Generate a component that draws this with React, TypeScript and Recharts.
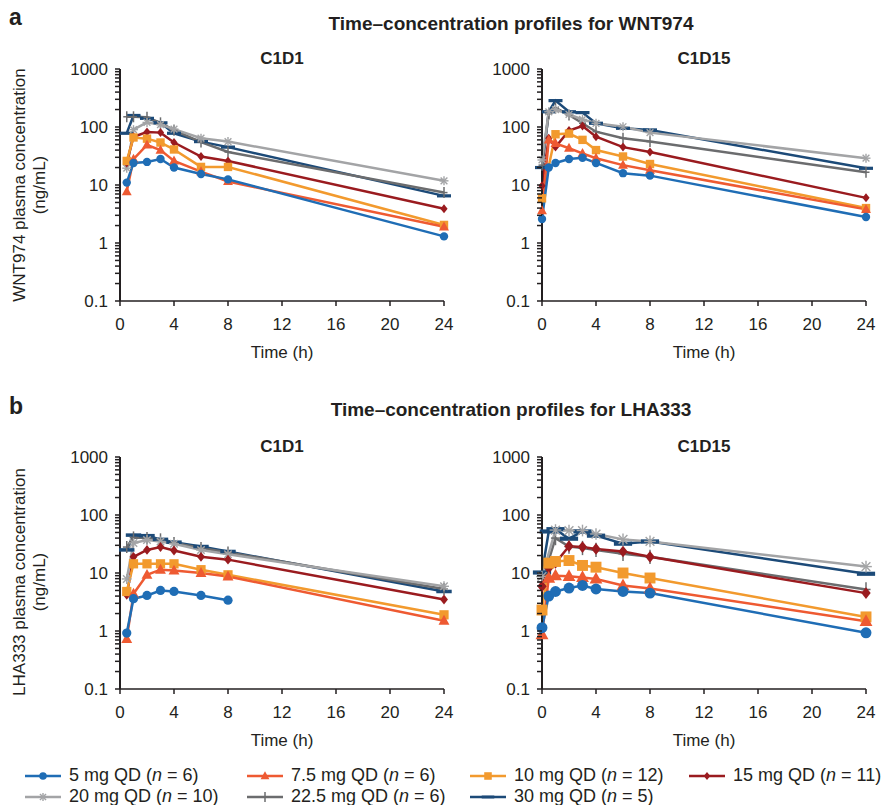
import React from 'react';
import { LineChart, Line, XAxis, YAxis } from 'recharts';

// sampling times (h)
const T_C1D1 = [0.5, 1, 2, 3, 4, 6, 8, 24];
const T_C1D15 = [0, 0.5, 1, 2, 3, 4, 6, 8, 24];

// one row per dose group, same order as DOSES
const WNT974_C1D1 = [
  [11, 24, 25, 28, 20, 15.5, 12.5, 1.3],
  [7.7, 28, 49, 40, 26, 17, 11.5, 1.9],
  [26, 66, 63, 54, 41, 20.5, 20.5, 2.05],
  [24, 68, 82, 80, 54, 31, 26, 3.9],
  [19.5, 90, 120, 110, 92, 64, 56, 11.8],
  [150, 150, 147, 118, 88, 55, 37, 7.4],
  [78, 158, 141, 118, 78, 56, 45, 6.5],
];
const WNT974_C1D15 = [
  [2.6, 20, 24, 28, 29.5, 24, 16, 14.5, 2.8],
  [3.6, 60, 52, 43, 35, 29, 22, 18, 3.8],
  [5.9, null, 75, 77, 60, 40, 31, 23, 4.0],
  [9.7, 64, 45, 87, 104, 68, 45, 37, 6.0],
  [27, 183, 200, 165, 135, 116, 101, 80, 29],
  [22, 170, 214, 161, 116, 83, 64, 56, 16.6],
  [20, 183, 285, 183, 177, 116, 95, 89, 19.4],
];
const LHA333_C1D1 = [
  [0.92, 3.6, 4.1, 5.0, 4.8, 4.1, 3.4, null],
  [0.73, 4.4, 9.3, 11.4, 11, 10, 8.7, 1.5],
  [4.8, 14.4, 14.4, 14.4, 14.4, 11.4, 9.3, 1.9],
  [4.2, 19, 25, 28, 24.5, 19, 17, 3.5],
  [7.9, 33, 37, 35, 32, 25, 21, 5.9],
  [28, 41, 40, 38, 33, 27, 22.6, 5.3],
  [25, 45, 44, 38, 34, 28.6, 23.5, 4.8],
];
const LHA333_C1D15 = [
  [1.14, 4, 4.8, 5.5, 6.1, 5.3, 4.8, 4.5, 0.93],
  [0.87, 8.2, 9, 8.8, 8.4, 7.9, 6.1, 5.4, 1.47],
  [2.3, 14.8, 15.8, 16.4, 13.5, 12.6, 10, 8.2, 1.75],
  [5.9, 12.2, 15, 29, 28, 26, 23.5, 19, 4.5],
  [8.7, null, 55, 54, 54, 47, 38, 35, 12.9],
  [7, null, 40, 28.6, 27, 25, 21.4, 19, 5.2],
  [10.2, 52, 57, 39, 52, 44, 32, 35, 9.7],
];

const DOSES = ['5', '7.5', '10', '15', '20', '22.5', '30'];
const N_PATIENTS = [6, 6, 12, 11, 10, 6, 5];
const COLORS = ['#1f6db5', '#ee5a32', '#f29a2e', '#9a1b1f', '#a3a4a6', '#6b6c6e', '#1c4a78'];
const MARKERS = ['circle', 'triangle', 'square', 'diamond', 'star', 'plus', 'dash'];

const X_TICKS = [0, 4, 8, 12, 16, 20, 24];
const Y_MAJOR = [0.1, 1, 10, 100, 1000];
const Y_TICKS: number[] = [];
Y_MAJOR.forEach((d, i) => {
  Y_TICKS.push(d);
  if (i < Y_MAJOR.length - 1) {
    for (let k = 2; k <= 9; k++) Y_TICKS.push(+(k * d).toPrecision(3));
  }
});

const FONT = "'Liberation Sans', Arial, Helvetica, sans-serif";
const INK = '#231f20';
const PLOT_W = 324;
const PLOT_H = 232;
// axis widths of 1px are added to these margins by recharts
const M = { top: 10, left: 59, right: 15, bottom: 44 };

function Marker({ kind, cx, cy, color, s = 1 }: any) {
  switch (kind) {
    case 'circle':
      return <circle cx={cx} cy={cy} r={4.2 * s} fill={color} />;
    case 'triangle': {
      const h = 9 * s;
      return (
        <polygon
          points={`${cx},${cy - h * 0.6} ${cx - h * 0.55},${cy + h * 0.4} ${cx + h * 0.55},${cy + h * 0.4}`}
          fill={color}
        />
      );
    }
    case 'square':
      return <rect x={cx - 4.2 * s} y={cy - 4.2 * s} width={8.4 * s} height={8.4 * s} fill={color} />;
    case 'diamond':
      return (
        <polygon
          points={`${cx},${cy - 4.5 * s} ${cx + 3.6 * s},${cy} ${cx},${cy + 4.5 * s} ${cx - 3.6 * s},${cy}`}
          fill={color}
        />
      );
    case 'star': {
      const r = 4.5 * s;
      const d = r * 0.75;
      return (
        <g stroke={color} strokeWidth={1.4}>
          <line x1={cx - r} x2={cx + r} y1={cy} y2={cy} />
          <line x1={cx} x2={cx} y1={cy - r} y2={cy + r} />
          <line x1={cx - d} x2={cx + d} y1={cy - d} y2={cy + d} />
          <line x1={cx - d} x2={cx + d} y1={cy + d} y2={cy - d} />
        </g>
      );
    }
    case 'plus':
      return (
        <g stroke={color} strokeWidth={1.5}>
          <line x1={cx} x2={cx} y1={cy - 5.5 * s} y2={cy + 5.5 * s} />
          <line x1={cx - 3.5 * s} x2={cx + 3.5 * s} y1={cy} y2={cy} />
        </g>
      );
    default:
      return <rect x={cx - 7 * s} y={cy - 1.6 * s} width={14 * s} height={3.2 * s} fill={color} />;
  }
}

function YTick({ x, y, payload }: any) {
  const v = payload.value;
  const major = Y_MAJOR.some((m) => Math.abs(m - v) < 1e-9);
  return (
    <g>
      <line x1={x - 5} x2={x} y1={y} y2={y} stroke={INK} strokeWidth={1.5} />
      {major && (
        <text x={x - 12} y={y} dy="0.36em" textAnchor="end" fontSize={17} fill={INK} fontFamily={FONT}>
          {String(v)}
        </text>
      )}
    </g>
  );
}

function Panel({ values, times, left, top, subtitle, ms }: any) {
  const rows = times.map((t: number, i: number) => {
    const r: any = { t };
    values.forEach((vals: (number | null)[], s: number) => {
      r['s' + s] = vals[i];
    });
    return r;
  });
  const order = [6, 5, 4, 3, 2, 1, 0];
  return (
    <div style={{ position: 'absolute', left: left - M.left - 1, top: top - M.top }}>
      <LineChart
        width={M.left + 1 + PLOT_W + M.right}
        height={M.top + PLOT_H + 1 + M.bottom}
        data={rows}
        margin={M}
        style={{ overflow: 'visible' }}
      >
        <XAxis
          dataKey="t"
          type="number"
          domain={[0, 24]}
          ticks={X_TICKS}
          interval={0}
          height={1}
          tickSize={5}
          tickMargin={12}
          stroke={INK}
          strokeWidth={1.5}
          tick={{ fontSize: 17, fill: INK, fontFamily: FONT }}
        />
        <YAxis
          scale="log"
          domain={[0.1, 1000]}
          allowDataOverflow
          ticks={Y_TICKS}
          interval={0}
          width={1}
          tickSize={0}
          tickMargin={0}
          tickLine={false}
          stroke={INK}
          strokeWidth={2}
          tick={<YTick />}
        />
        {order.map((s) => (
          <Line
            key={s}
            dataKey={'s' + s}
            stroke={COLORS[s]}
            strokeWidth={2.5}
            connectNulls
            isAnimationActive={false}
            activeDot={false}
            dot={(p: any) =>
              p.value == null || p.cy == null ? (
                <g key={p.index} />
              ) : (
                <Marker key={p.index} kind={MARKERS[s]} cx={p.cx} cy={p.cy} color={COLORS[s]} s={ms} />
              )
            }
          />
        ))}
      </LineChart>
      <div
        style={{
          position: 'absolute',
          left: M.left + 1,
          width: PLOT_W,
          top: -10,
          textAlign: 'center',
          fontWeight: 'bold',
          fontSize: 17,
        }}
      >
        {subtitle}
      </div>
      <div
        style={{
          position: 'absolute',
          left: M.left + 1,
          width: PLOT_W,
          top: M.top + PLOT_H + 42,
          textAlign: 'center',
          fontSize: 17,
        }}
      >
        Time (h)
      </div>
    </div>
  );
}

function YLabel({ drug, cy }: any) {
  return (
    <div style={{ position: 'absolute', left: 30, top: cy, width: 0, height: 0 }}>
      <div
        style={{
          position: 'absolute',
          transform: 'translate(-50%, -50%) rotate(-90deg)',
          whiteSpace: 'nowrap',
          textAlign: 'center',
          fontSize: 17,
          lineHeight: '20px',
        }}
      >
        {drug} plasma concentration
        <br />
        (ng/mL)
      </div>
    </div>
  );
}

function LegendItem({ i, x, y }: any) {
  return (
    <div style={{ position: 'absolute', left: x, top: y, display: 'flex', alignItems: 'center', whiteSpace: 'nowrap' }}>
      <svg width={36} height={14} style={{ marginRight: 8 }}>
        <line x1={0} x2={36} y1={7} y2={7} stroke={COLORS[i]} strokeWidth={2.5} />
        <Marker kind={MARKERS[i]} cx={18} cy={7} color={COLORS[i]} s={0.9} />
      </svg>
      <span>
        {DOSES[i]} mg QD (<i>n</i> = {N_PATIENTS[i]})
      </span>
    </div>
  );
}

const LEGEND_POS = [
  [25, 765],
  [247, 765],
  [470, 765],
  [689, 765],
  [25, 786],
  [247, 786],
  [470, 786],
];

export default function App() {
  return (
    <div
      style={{
        position: 'absolute',
        left: 0,
        top: 0,
        width: 893,
        height: 805,
        background: '#fff',
        fontFamily: FONT,
        color: INK,
      }}
    >
      <div style={{ position: 'absolute', left: 9, top: 4, fontSize: 23, fontWeight: 'bold' }}>a</div>
      <div style={{ position: 'absolute', left: 300, width: 422, top: 13, textAlign: 'center', fontSize: 19, fontWeight: 'bold' }}>
        Time–concentration profiles for WNT974
      </div>
      <div style={{ position: 'absolute', left: 9, top: 393, fontSize: 23, fontWeight: 'bold' }}>b</div>
      <div style={{ position: 'absolute', left: 300, width: 422, top: 399, textAlign: 'center', fontSize: 19, fontWeight: 'bold' }}>
        Time–concentration profiles for LHA333
      </div>

      <YLabel drug="WNT974" cy={185} />
      <YLabel drug="LHA333" cy={582} />

      <Panel values={WNT974_C1D1} times={T_C1D1} left={120} top={69} subtitle="C1D1" ms={1} />
      <Panel values={WNT974_C1D15} times={T_C1D15} left={542} top={69} subtitle="C1D15" ms={1} />
      <Panel values={LHA333_C1D1} times={T_C1D1} left={120} top={457} subtitle="C1D1" ms={1.1} />
      <Panel values={LHA333_C1D15} times={T_C1D15} left={542} top={457} subtitle="C1D15" ms={1.3} />

      <div style={{ fontSize: 18 }}>
        {LEGEND_POS.map(([x, y], i) => (
          <LegendItem key={i} i={i} x={x} y={y} />
        ))}
      </div>
    </div>
  );
}
